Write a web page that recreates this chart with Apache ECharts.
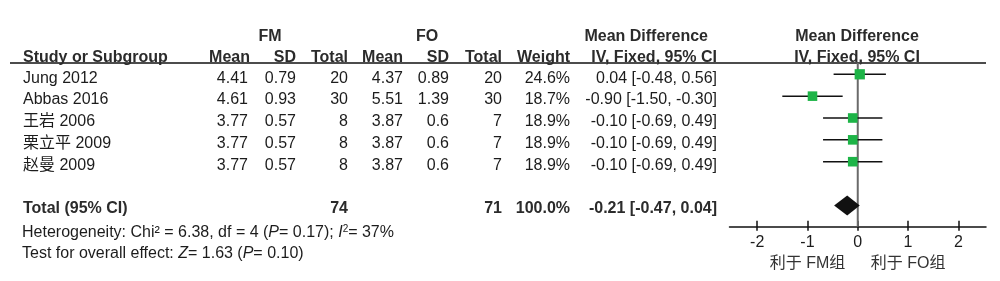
<!DOCTYPE html>
<html><head><meta charset="utf-8">
<script src="https://cdn.jsdelivr.net/npm/echarts@6.0.0/dist/echarts.min.js"></script>
<style>html,body{margin:0;padding:0;background:#fff}#c{width:1000px;height:281px}</style>
</head><body><div id="c"></div>
<script>
// ---- data ----
const studies = ['Jung 2012', 'Abbas 2016', '王岩 2006', '栗立平 2009', '赵曼 2009'];
const fmMean = ['4.41', '4.61', '3.77', '3.77', '3.77'];
const fmSD = ['0.79', '0.93', '0.57', '0.57', '0.57'];
const fmTotal = [20, 30, 8, 8, 8];
const foMean = ['4.37', '5.51', '3.87', '3.87', '3.87'];
const foSD = ['0.89', '1.39', '0.6', '0.6', '0.6'];
const foTotal = [20, 30, 7, 7, 7];
const weights = [24.6, 18.7, 18.9, 18.9, 18.9];
const md = [0.04, -0.90, -0.10, -0.10, -0.10];
const ciLow = [-0.48, -1.50, -0.69, -0.69, -0.69];
const ciHigh = [0.56, -0.30, 0.49, 0.49, 0.49];
const totalFM = 74, totalFO = 71, totalWeight = 100.0;
const totalMD = [-0.21], totalLow = [-0.47], totalHigh = [0.04];
const hetChi2 = 6.38, hetDf = 4, hetP = 0.17, hetI2 = 37;
const effZ = 1.63, effP = 0.10;
const axisTicks = [-2, -1, 0, 1, 2];
const refLine = [0];
const favourLabels = { '-1': '利于 FM组', '1': '利于 FO组' };

// ---- layout ----
const FONT = "'Liberation Sans', Arial, 'Noto Sans CJK SC', sans-serif";
const FS = 16;
const TXT = '#1c1c1c';
const HDR = '#2b2b2b';
const ROW_TOTAL = 6;
const TXT_OFF = 0.18;
const Y_MIN = -0.517, Y_MAX = 6.975;
const GRID_TOP = 63, GRID_H = 163.7;
const colX = { study: 23, fmMean: 248, fmSD: 296, fmTotal: 348, foMean: 403, foSD: 449, foTotal: 502, weight: 570, ci: 717 };

const fmt2 = v => v.toFixed(2);
const ciText = (m, l, h) => fmt2(m) + ' [' + fmt2(l) + ', ' + fmt2(h) + ']';

// cells: [x, row, text, align, bold, rich]
const cells = [];
const H1 = -1.72, H2 = -0.76;
cells.push([270, H1, 'FM', 'center', true]);
cells.push([427, H1, 'FO', 'center', true]);
cells.push([708, H1, 'Mean Difference', 'right', true]);
cells.push([857, H1, 'Mean Difference', 'center', true]);
cells.push([colX.study, H2, 'Study or Subgroup', 'left', true]);
cells.push([colX.fmMean + 2, H2, 'Mean', 'right', true]);
cells.push([colX.fmSD, H2, 'SD', 'right', true]);
cells.push([colX.fmTotal, H2, 'Total', 'right', true]);
cells.push([colX.foMean, H2, 'Mean', 'right', true]);
cells.push([colX.foSD, H2, 'SD', 'right', true]);
cells.push([colX.foTotal, H2, 'Total', 'right', true]);
cells.push([colX.weight, H2, 'Weight', 'right', true]);
cells.push([colX.ci, H2, 'IV, Fixed, 95% CI', 'right', true]);
cells.push([857, H2, 'IV, Fixed, 95% CI', 'center', true]);
studies.forEach((s, i) => {
  const r = i + TXT_OFF;
  cells.push([colX.study, r, s, 'left', false]);
  cells.push([colX.fmMean, r, fmMean[i], 'right', false]);
  cells.push([colX.fmSD, r, fmSD[i], 'right', false]);
  cells.push([colX.fmTotal, r, String(fmTotal[i]), 'right', false]);
  cells.push([colX.foMean, r, foMean[i], 'right', false]);
  cells.push([colX.foSD, r, foSD[i], 'right', false]);
  cells.push([colX.foTotal, r, String(foTotal[i]), 'right', false]);
  cells.push([colX.weight, r, weights[i].toFixed(1) + '%', 'right', false]);
  cells.push([colX.ci, r, ciText(md[i], ciLow[i], ciHigh[i]), 'right', false]);
});
const RT = ROW_TOTAL + 0.14;
cells.push([colX.study, RT, 'Total (95% CI)', 'left', true]);
cells.push([colX.fmTotal, RT, String(totalFM), 'right', true]);
cells.push([colX.foTotal, RT, String(totalFO), 'right', true]);
cells.push([colX.weight, RT, totalWeight.toFixed(1) + '%', 'right', true]);
cells.push([colX.ci, RT, ciText(totalMD[0], totalLow[0], totalHigh[0]), 'right', true]);
cells.push([colX.study - 1, 7.24, 'Heterogeneity: Chi\u00b2 = ' + hetChi2.toFixed(2) + ', df = ' + hetDf + ' ({i|P}= ' + hetP.toFixed(2) + '); {i|I}{s|2}= ' + hetI2 + '%', 'left', false, true]);
cells.push([colX.study - 1, 8.2, 'Test for overall effect: {i|Z}= ' + effZ.toFixed(2) + ' ({i|P}= ' + effP.toFixed(2) + ')', 'left', false, true]);

const chart = echarts.init(document.getElementById('c'));

const studyData = studies.map((s, i) => [md[i], i, ciLow[i], ciHigh[i], weights[i]]);
const totalData = [[totalMD[0], ROW_TOTAL, totalLow[0], totalHigh[0]]];

chart.setOption({
  animation: false,
  backgroundColor: '#fff',
  graphic: [{
    type: 'line', shape: { x1: 10, y1: GRID_TOP, x2: 986, y2: GRID_TOP },
    style: { stroke: '#111', lineWidth: 1.5 }, z: 1
  }],
  grid: [
    { left: 729.5, width: 256.5, top: GRID_TOP, height: GRID_H },
    { left: 0, width: 1000, top: GRID_TOP, height: GRID_H }
  ],
  xAxis: [
    {
      gridIndex: 0, type: 'value', min: -2.55, max: 2.55, position: 'bottom',
      axisLine: { show: true, onZero: false, lineStyle: { color: '#111', width: 1.5 } },
      axisTick: { show: true, inside: true, length: 6, customValues: axisTicks, lineStyle: { color: '#111', width: 1.5 } },
      axisLabel: { show: true, customValues: axisTicks, margin: 8, color: TXT, fontSize: FS, fontFamily: FONT },
      splitLine: { show: false }
    },
    {
      gridIndex: 0, type: 'value', min: -2.55, max: 2.55, position: 'bottom',
      axisLine: { show: false, onZero: false },
      axisTick: { show: true, inside: false, length: 4, customValues: axisTicks, lineStyle: { color: '#111', width: 1.5 } },
      axisLabel: { show: true, customValues: [-1, 1], margin: 29, color: '#333', fontSize: FS, fontFamily: FONT,
        formatter: v => favourLabels[String(v)] || '' },
      splitLine: { show: false }
    },
    { gridIndex: 1, type: 'value', min: 0, max: 1000, show: false }
  ],
  yAxis: [
    { gridIndex: 0, type: 'value', min: Y_MIN, max: Y_MAX, inverse: true, show: false },
    { gridIndex: 1, type: 'value', min: Y_MIN, max: Y_MAX, inverse: true, show: false }
  ],
  series: [
    {
      type: 'custom', xAxisIndex: 0, yAxisIndex: 0, data: refLine.map(v => [v]), z: 1, silent: true,
      renderItem: (params, api) => {
        const t = api.coord([api.value(0), Y_MIN]);
        const b = api.coord([api.value(0), Y_MAX]);
        return { type: 'line', shape: { x1: t[0], y1: t[1], x2: b[0], y2: b[1] }, style: { stroke: '#6a6a6a', lineWidth: 2 } };
      }
    },
    {
      type: 'custom', xAxisIndex: 0, yAxisIndex: 0, data: studyData, z: 3,
      renderItem: (params, api) => {
        const c = api.coord([api.value(0), api.value(1)]);
        const l = api.coord([api.value(2), api.value(1)]);
        const h = api.coord([api.value(3), api.value(1)]);
        const sz = 9.6 * Math.pow(api.value(4) / 18.9, 0.25);
        return {
          type: 'group', children: [
            { type: 'line', shape: { x1: l[0], y1: l[1], x2: h[0], y2: h[1] }, style: { stroke: '#111', lineWidth: 1.5 } },
            { type: 'rect', shape: { x: c[0] - sz / 2, y: c[1] - sz / 2, width: sz, height: sz }, style: { fill: '#1db447' } }
          ]
        };
      }
    },
    {
      type: 'custom', xAxisIndex: 0, yAxisIndex: 0, data: totalData, z: 3,
      renderItem: (params, api) => {
        const c = api.coord([api.value(0), api.value(1)]);
        const l = api.coord([api.value(2), api.value(1)]);
        const h = api.coord([api.value(3), api.value(1)]);
        const hh = 10;
        return {
          type: 'polygon',
          shape: { points: [[l[0], c[1]], [c[0], c[1] - hh], [h[0], c[1]], [c[0], c[1] + hh]] },
          style: { fill: '#111' }
        };
      }
    },
    {
      type: 'custom', xAxisIndex: 2, yAxisIndex: 1, clip: false, silent: true,
      data: cells.map(c => [c[0], c[1]]),
      renderItem: (params, api) => {
        const cell = cells[params.dataIndex];
        const p = api.coord([api.value(0), api.value(1)]);
        const style = {
          fontSize: FS, fontFamily: FONT, fill: cell[4] ? HDR : TXT, fontWeight: cell[4] ? 'bold' : 'normal',
          text: cell[2], align: cell[3], verticalAlign: 'middle'
        };
        if (cell[5]) {
          style.rich = {
            i: { fontSize: FS, fontFamily: FONT, fontStyle: 'italic', fill: TXT },
            s: { fontSize: 10, fontFamily: FONT, fill: TXT, verticalAlign: 'top', padding: [0, 0, 6, 0] }
          };
        }
        return { type: 'text', x: p[0], y: p[1], style: style };
      }
    }
  ]
});
</script></body></html>
